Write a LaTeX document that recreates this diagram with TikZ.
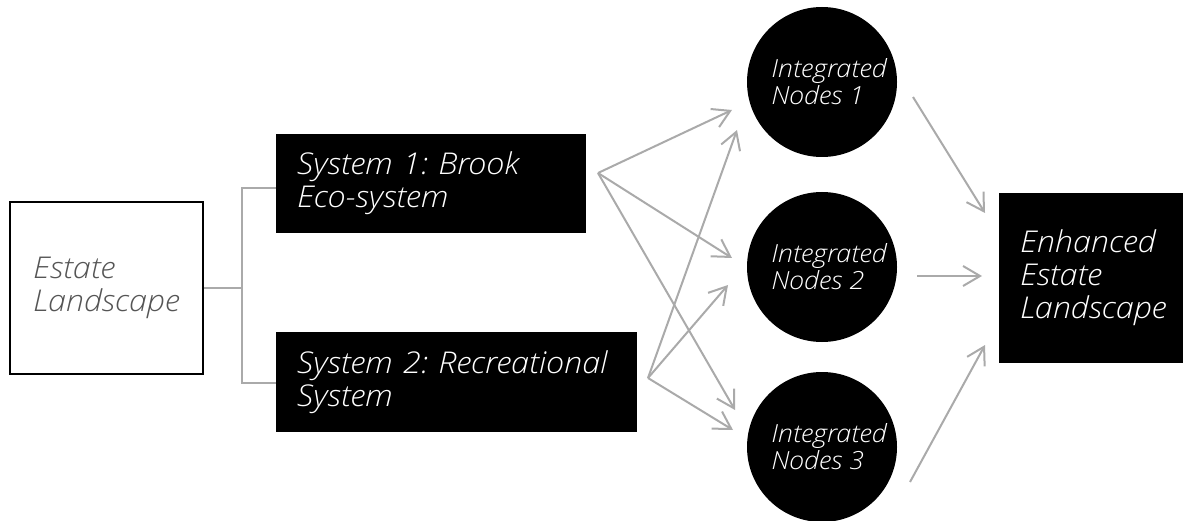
\documentclass[tikz,border=0pt]{standalone}
\usepackage{fontspec}
\setmainfont{Open Sans Light Italic}[FakeStretch=1.08]
\usetikzlibrary{arrows.meta}
\definecolor{arrowgrey}{HTML}{AAAAAA}
\definecolor{textgrey}{HTML}{555555}
\newcommand{\ind}{\hspace*{14pt}}
\tikzset{
  bigtext/.style={font=\fontsize{30pt}{33pt}\selectfont\frenchspacing},
  smalltext/.style={font=\fontsize{25pt}{27pt}\selectfont\frenchspacing},
  blackbox/.style={rectangle, fill=black, text=white, align=left, inner xsep=21pt, inner ysep=0pt, bigtext},
  blackcircle/.style={circle, fill=black, text=white, align=left, minimum size=150pt, inner sep=0pt, smalltext},
  bracket/.style={draw=arrowgrey, line width=1.3pt},
  conn/.style={draw=arrowgrey, line width=2pt, -{Straight Barb[length=17pt,width=20pt,line width=2pt]}}
}
\begin{document}
\begin{tikzpicture}[x=1pt,y=-1pt]
\useasboundingbox (0,0) rectangle (1183,521);
% nodes
\node[rectangle, draw=black, line width=1.5pt, minimum width=193pt, minimum height=172pt, inner sep=0pt, align=left, text=textgrey, bigtext] (estate) at (106.5,288) {Estate\\Landscape};
\node[blackbox, text width=268pt, minimum height=99pt] (s1) at (431,183.5) {System 1: Brook\\Eco-system};
\node[blackbox, text width=319pt, minimum height=100pt] (s2) at (456.5,382) {System 2: Recreational\\System};
\node[blackcircle] (n1) at (822,82) {\ind Integrated\\\ind Nodes 1};
\node[blackcircle] (n2) at (822,267) {\ind Integrated\\\ind Nodes 2};
\node[blackcircle] (n3) at (822,447) {\ind Integrated\\\ind Nodes 3};
\node[blackbox, text width=160pt, minimum height=170pt] (enh) at (1100,278) {Enhanced\\Estate\\Landscape};
% bracket
\coordinate (bx) at (242,288);
\draw[bracket] (estate.east) -- (bx);
\draw[bracket] ([yshift=-4.5pt]s1.west) -- (242,188) -- (242,383) -- ([yshift=-1pt]s2.west);
% connector ends
\coordinate (s1o) at (598,173);
\coordinate (s2o) at (648,378);
\coordinate (n1a) at (732,110);
\coordinate (n2a) at (732,258);
\coordinate (n3a) at (735,410);
\coordinate (n1b) at (737,130);
\coordinate (n2b) at (728,285);
\coordinate (n3b) at (733,430);
\coordinate (n1o) at (913,97);
\coordinate (n2o) at (917,276);
\coordinate (n3o) at (910,482);
\coordinate (e1) at (985,213);
\coordinate (e2) at (982,276);
\coordinate (e3) at (985,345);
% connectors
\draw[conn] (s1o) -- (n1a);
\draw[conn] (s1o) -- (n2a);
\draw[conn] (s1o) -- (n3a);
\draw[conn] (s2o) -- (n1b);
\draw[conn] (s2o) -- (n2b);
\draw[conn] (s2o) -- (n3b);
\draw[conn] (n1o) -- (e1);
\draw[conn] (n2o) -- (e2);
\draw[conn] (n3o) -- (e3);
\end{tikzpicture}
\end{document}
